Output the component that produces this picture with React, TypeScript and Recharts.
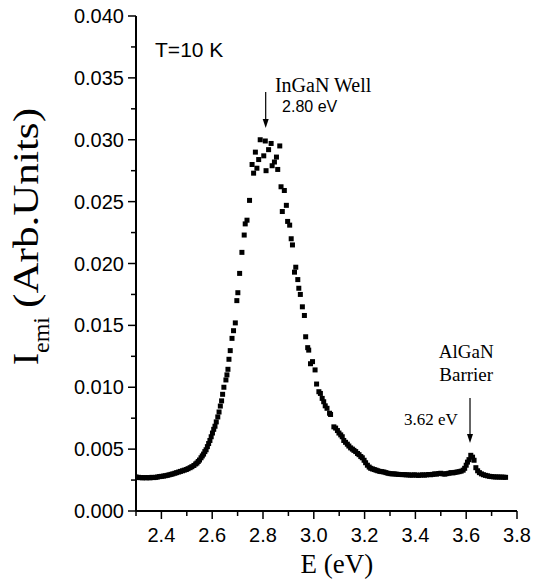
import React from "react";
import { ScatterChart, Scatter, XAxis, YAxis, ReferenceLine, ReferenceDot } from "recharts";

const energy: number[] = [
  2.300, 2.305, 2.310, 2.318, 2.325, 2.333, 2.340, 2.348, 2.355, 2.363, 2.370, 2.378, 2.385, 2.393,
  2.400, 2.408, 2.415, 2.423, 2.430, 2.438, 2.445, 2.453, 2.460, 2.468, 2.475, 2.483, 2.490, 2.498,
  2.505, 2.513, 2.520, 2.528, 2.535, 2.540, 2.545, 2.550, 2.556, 2.561, 2.566, 2.571, 2.576, 2.581,
  2.586, 2.591, 2.596, 2.601, 2.606, 2.611, 2.616, 2.622, 2.627, 2.632, 2.637, 2.641, 2.646, 2.654,
  2.658, 2.662, 2.666, 2.671, 2.678, 2.684, 2.691, 2.697, 2.701, 2.708, 2.717, 2.726, 2.730, 2.737,
  2.747, 2.757, 2.763, 2.770, 2.776, 2.783, 2.789, 2.803, 2.809, 2.812, 2.822, 2.832, 2.836, 2.845,
  2.853, 2.858, 2.866, 2.871, 2.876, 2.884, 2.892, 2.897, 2.905, 2.911, 2.916, 2.924, 2.929, 2.937,
  2.941, 2.947, 2.955, 2.963, 2.968, 2.976, 2.980, 2.987, 2.995, 3.005, 3.011, 3.020, 3.026, 3.033,
  3.039, 3.045, 3.052, 3.062, 3.066, 3.079, 3.086, 3.093, 3.099, 3.106, 3.112, 3.118, 3.125, 3.132,
  3.138, 3.145, 3.152, 3.158, 3.165, 3.172, 3.178, 3.185, 3.191, 3.198, 3.204, 3.211, 3.218, 3.224,
  3.231, 3.238, 3.245, 3.252, 3.260, 3.268, 3.276, 3.284, 3.292, 3.300, 3.308, 3.316, 3.324, 3.332,
  3.340, 3.348, 3.356, 3.364, 3.372, 3.380, 3.388, 3.396, 3.404, 3.412, 3.420, 3.428, 3.436, 3.444,
  3.452, 3.460, 3.468, 3.476, 3.484, 3.492, 3.500, 3.508, 3.516, 3.524, 3.532, 3.540, 3.548, 3.556,
  3.564, 3.572, 3.580, 3.588, 3.594, 3.600, 3.605, 3.611, 3.618, 3.625, 3.631, 3.638, 3.645, 3.652,
  3.660, 3.668, 3.676, 3.684, 3.692, 3.700, 3.708, 3.716, 3.724, 3.732, 3.740, 3.748, 3.755,
];

const intensity: number[] = [
  0.00275, 0.00270, 0.00272, 0.00270, 0.00268, 0.00270, 0.00268, 0.00270, 0.00268, 0.00272, 0.00270, 0.00272, 0.00275, 0.00278,
  0.00280, 0.00282, 0.00285, 0.00288, 0.00292, 0.00296, 0.00300, 0.00305, 0.00310, 0.00315, 0.00320, 0.00325, 0.00330, 0.00335,
  0.00342, 0.00350, 0.00358, 0.00368, 0.00380, 0.00388, 0.00400, 0.00412, 0.00430, 0.00445, 0.00460, 0.00480, 0.00495, 0.00520,
  0.00545, 0.00570, 0.00600, 0.00630, 0.00660, 0.00685, 0.00720, 0.00760, 0.00800, 0.00848, 0.00890, 0.00943, 0.01000, 0.01059,
  0.01100, 0.01145, 0.01226, 0.01296, 0.01395, 0.01457, 0.01520, 0.01700, 0.01764, 0.01920, 0.02090, 0.02230, 0.02320, 0.02350,
  0.02510, 0.02800, 0.02730, 0.02900, 0.02770, 0.02840, 0.03000, 0.02870, 0.02990, 0.02750, 0.02920, 0.02970, 0.02790, 0.02820,
  0.02860, 0.02760, 0.02950, 0.02620, 0.02420, 0.02590, 0.02470, 0.02340, 0.02310, 0.02200, 0.02150, 0.01930, 0.01970, 0.01870,
  0.01800, 0.01750, 0.01650, 0.01580, 0.01408, 0.01320, 0.01300, 0.01190, 0.01207, 0.01140, 0.01026, 0.00964, 0.00950, 0.00910,
  0.00883, 0.00850, 0.00830, 0.00790, 0.00780, 0.00680, 0.00670, 0.00650, 0.00630, 0.00615, 0.00600, 0.00570, 0.00555, 0.00540,
  0.00525, 0.00510, 0.00500, 0.00490, 0.00480, 0.00465, 0.00455, 0.00440, 0.00430, 0.00410, 0.00390, 0.00370, 0.00355, 0.00345,
  0.00340, 0.00335, 0.00330, 0.00325, 0.00320, 0.00318, 0.00315, 0.00310, 0.00305, 0.00302, 0.00300, 0.00300, 0.00298, 0.00296,
  0.00295, 0.00294, 0.00294, 0.00292, 0.00292, 0.00290, 0.00290, 0.00292, 0.00290, 0.00288, 0.00290, 0.00292, 0.00290, 0.00292,
  0.00295, 0.00293, 0.00296, 0.00300, 0.00298, 0.00303, 0.00305, 0.00300, 0.00298, 0.00302, 0.00305, 0.00310, 0.00308, 0.00312,
  0.00315, 0.00318, 0.00322, 0.00330, 0.00345, 0.00370, 0.00395, 0.00415, 0.00450, 0.00435, 0.00410, 0.00350, 0.00325, 0.00310,
  0.00300, 0.00293, 0.00288, 0.00284, 0.00280, 0.00278, 0.00276, 0.00275, 0.00275, 0.00274, 0.00274, 0.00273, 0.00272,
];

const xTicks: number[] = [2.3, 2.4, 2.5, 2.6, 2.7, 2.8, 2.9, 3.0, 3.1, 3.2, 3.3, 3.4, 3.5, 3.6, 3.7, 3.8];
const xLabeled: string[] = ["2.4", "2.6", "2.8", "3.0", "3.2", "3.4", "3.6", "3.8"];
const yTicks: number[] = [0, 0.0025, 0.005, 0.0075, 0.01, 0.0125, 0.015, 0.0175, 0.02, 0.0225, 0.025, 0.0275, 0.03, 0.0325, 0.035, 0.0375, 0.04];
const yLabeled: string[] = ["0.000", "0.005", "0.010", "0.015", "0.020", "0.025", "0.030", "0.035", "0.040"];

const data = energy.map((e, i) => ({ e, v: intensity[i] }));

const SANS = "'Liberation Sans', Arial, sans-serif";
const SERIF = "'Liberation Serif', 'Times New Roman', serif";

const fmtX = (v: number) => v.toFixed(1);
const fmtY = (v: number) => v.toFixed(3);

const XBottomTick = (p: any) => {
  const lab = fmtX(p.payload.value as number);
  const major = xLabeled.includes(lab);
  return (
    <g>
      <line x1={p.x} x2={p.x} y1={p.y} y2={p.y + (major ? 8 : 5)} stroke="#000" strokeWidth={1.5} />
      {major && (
        <text x={p.x} y={p.y + 31} textAnchor="middle" style={{ fontFamily: SANS, fontSize: 20 }} fill="#000">
          {lab}
        </text>
      )}
    </g>
  );
};

const XTopTick = (p: any) => {
  const lab = fmtX(p.payload.value as number);
  const major = xLabeled.includes(lab);
  return <line x1={p.x} x2={p.x} y1={p.y} y2={p.y + (major ? 8 : 5)} stroke="#000" strokeWidth={1.5} />;
};

const YLeftTick = (p: any) => {
  const lab = fmtY(p.payload.value as number);
  const major = yLabeled.includes(lab);
  return (
    <g>
      <line x1={p.x} x2={p.x - (major ? 8 : 5)} y1={p.y} y2={p.y} stroke="#000" strokeWidth={1.5} />
      {major && (
        <text x={p.x - 12} y={p.y + 7} textAnchor="end" style={{ fontFamily: SANS, fontSize: 20 }} fill="#000">
          {lab}
        </text>
      )}
    </g>
  );
};

const YRightTick = (p: any) => {
  const lab = fmtY(p.payload.value as number);
  const major = yLabeled.includes(lab);
  return <line x1={p.x} x2={p.x - (major ? 8 : 5)} y1={p.y} y2={p.y} stroke="#000" strokeWidth={1.5} />;
};

const Square = (p: any) => <rect x={p.cx - 2.5} y={p.cy - 2.5} width={5} height={5} fill="#000" />;

const Arrow = (p: any) => {
  const x = p.x1;
  const yTop = Math.min(p.y1, p.y2);
  const yBot = Math.max(p.y1, p.y2);
  return (
    <g>
      <line x1={x} x2={x} y1={yTop} y2={yBot - 6} stroke="#000" strokeWidth={1.2} />
      <polygon points={`${x - 3},${yBot - 9} ${x + 3},${yBot - 9} ${x},${yBot}`} fill="#000" />
    </g>
  );
};

const textShape = (txt: string, family: string, size: number, anchor: string = "start") => (p: any) => (
  <text x={p.cx} y={p.cy} style={{ fontFamily: family, fontSize: size }} fill="#000" textAnchor={anchor}>
    {txt}
  </text>
);

const YTitle = (p: any) => (
  <text transform={`translate(${p.cx},${p.cy}) rotate(-90)`} style={{ fontFamily: SERIF }} fill="#000">
    <tspan style={{ fontSize: 36 }}>I</tspan>
    <tspan style={{ fontSize: 24 }} dy={11}>emi</tspan>
    <tspan style={{ fontSize: 36 }} dx={9} dy={-11} textLength={200} lengthAdjust="spacingAndGlyphs">
      (Arb.Units)
    </tspan>
  </text>
);

export default function App() {
  return (
    <div style={{ position: "absolute", left: 0, top: 0, width: 537, height: 585, background: "#fff" }}>
      <ScatterChart width={537} height={585} margin={{ top: 16, right: 20, bottom: 0, left: 0 }}>
        <XAxis
          xAxisId="b"
          type="number"
          dataKey="e"
          domain={[2.3, 3.8]}
          ticks={xTicks}
          interval={0}
          allowDataOverflow
          tickLine={false}
          tickSize={0}
          tickMargin={0}
          tick={<XBottomTick />}
          height={74}
          axisLine={{ stroke: "#000", strokeWidth: 2 }}
        />
        <XAxis
          xAxisId="t"
          orientation="top"
          type="number"
          dataKey="e"
          domain={[2.3, 3.8]}
          ticks={xTicks}
          interval={0}
          allowDataOverflow
          tickLine={false}
          tickSize={0}
          tickMargin={0}
          tick={<XTopTick />}
          height={0}
          axisLine={{ stroke: "#000", strokeWidth: 1.5 }}
        />
        <YAxis
          yAxisId="l"
          type="number"
          dataKey="v"
          domain={[0, 0.04]}
          ticks={yTicks}
          interval={0}
          allowDataOverflow
          tickLine={false}
          tickSize={0}
          tickMargin={0}
          tick={<YLeftTick />}
          width={136}
          axisLine={{ stroke: "#000", strokeWidth: 2 }}
        />
        <YAxis
          yAxisId="r"
          orientation="right"
          type="number"
          dataKey="v"
          domain={[0, 0.04]}
          ticks={yTicks}
          interval={0}
          allowDataOverflow
          tickLine={false}
          tickSize={0}
          tickMargin={0}
          tick={<YRightTick />}
          width={0}
          axisLine={{ stroke: "#000", strokeWidth: 1.5 }}
        />
        <Scatter xAxisId="b" yAxisId="l" data={data} shape={<Square />} isAnimationActive={false} />
        <ReferenceLine
          xAxisId="b"
          yAxisId="l"
          segment={[{ x: 2.8106, y: 0.03386 }, { x: 2.8106, y: 0.03095 }]}
          shape={<Arrow />}
        />
        <ReferenceLine
          xAxisId="b"
          yAxisId="l"
          segment={[{ x: 3.615, y: 0.00913 }, { x: 3.615, y: 0.00549 }]}
          shape={<Arrow />}
        />
        <ReferenceDot xAxisId="b" yAxisId="l" x={2.375} y={0.03666} r={0} shape={textShape("T=10 K", SANS, 21)} />
        <ReferenceDot xAxisId="b" yAxisId="l" x={2.847} y={0.03386} r={0} shape={textShape("InGaN Well", SERIF, 20)} />
        <ReferenceDot xAxisId="b" yAxisId="l" x={2.875} y={0.03224} r={0} shape={textShape("2.80 eV", SANS, 16)} />
        <ReferenceDot xAxisId="b" yAxisId="l" x={3.6} y={0.01236} r={0} shape={textShape("AlGaN", SERIF, 19, "middle")} />
        <ReferenceDot xAxisId="b" yAxisId="l" x={3.6} y={0.0105} r={0} shape={textShape("Barrier", SERIF, 19, "middle")} />
        <ReferenceDot xAxisId="b" yAxisId="l" x={3.355} y={0.00695} r={0} shape={textShape("3.62 eV", SERIF, 17)} />
        <ReferenceDot
          xAxisId="b"
          yAxisId="l"
          x={3.091}
          y={-0.00501}
          r={0}
          ifOverflow="visible"
          shape={textShape("E (eV)", SERIF, 27, "middle")}
        />
        <ReferenceDot xAxisId="b" yAxisId="l" x={1.914} y={0.0118} r={0} ifOverflow="visible" shape={<YTitle />} />
      </ScatterChart>
    </div>
  );
}
